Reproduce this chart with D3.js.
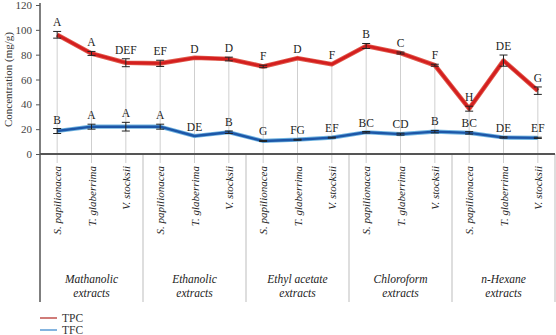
<!DOCTYPE html>
<html>
<head>
<meta charset="utf-8">
<script src="https://cdn.jsdelivr.net/npm/d3@7/dist/d3.min.js"></script>
<style>
    body { margin: 0; background: #fff; }
    svg { display: block; }
</style>
</head>
<body>
<div id="grafica"></div>
<script>
// especies y extractos
var especies = ["S. papilionacea", "T. glaberrima", "V. stocksii"];
var extractos = [["Mathanolic", "extracts"], ["Ethanolic", "extracts"], ["Ethyl acetate", "extracts"],
    ["Chloroform", "extracts"], ["n-Hexane", "extracts"]];

// TPC
var tpc = [96, 81, 73.5, 73, 77.5, 76.5, 70.5, 77.2, 72.3, 87, 81.3, 71.5, 36.5, 75.2, 51];
var tpcErr = [2.7, 1.6, 3.2, 2.5, 0, 1.5, 1, 0, 0, 2, 0.8, 0.8, 2, 4.5, 3];
var tpcLetras = ["A", "A", "DEF", "EF", "D", "D", "F", "D", "F", "B", "C", "F", "H", "DE", "G"];

// TFC
var tfc = [18.5, 22, 22, 22, 14.5, 17.5, 10.5, 11.5, 13.2, 17.5, 16, 18, 17, 13.3, 13];
var tfcErr = [2, 2, 3.5, 2, 0, 1, 0.4, 0.4, 0.4, 0.6, 0.8, 1, 1, 0.5, 0.5];
var tfcLetras = ["B", "A", "A", "A", "DE", "B", "G", "FG", "EF", "BC", "CD", "B", "BC", "DE", "EF"];

var yTicks = [0, 20, 40, 60, 80, 100, 120];

var fuente = "'Liberation Serif', 'Times New Roman', 'DejaVu Serif', serif";

var claves = [];
extractos.forEach(function (e, i) {
    especies.forEach(function (s) {
        claves.push(i + "|" + s);
    });
});

var data = claves.map(function (c, i) {
    return {clave: c, especie: c.split("|")[1], tpc: tpc[i], tpcErr: tpcErr[i], tpcL: tpcLetras[i],
        tfc: tfc[i], tfcErr: tfcErr[i], tfcL: tfcLetras[i]};
});

var svg = d3.select("#grafica").append("svg").attr("width", 556).attr("height", 335)
        .attr("font-family", fuente);
var margin = {top: 5, left: 40};
var width = 515;
var height = 149;
var g = svg.append("g").attr("transform", "translate(" + margin.left + "," + margin.top + ")");

var x = d3.scaleBand().domain(claves).range([0, width]);
var y = d3.scaleLinear().domain([0, 120]).range([height, 0]);
var cx = function (d) {
    return x(d.clave) + x.bandwidth() / 2;
};

// lineas verticales de cada especie
g.append("g").selectAll("line")
        .data(data)
        .enter()
        .append("line")
        .attr("x1", cx).attr("x2", cx)
        .attr("y1", function (d) { return y(d.tpc); })
        .attr("y2", height + 9)
        .attr("stroke", "#cfcfcf")
        .attr("stroke-width", 1);

// separadores de grupos
var grupoW = x.bandwidth() * 3;
g.append("g").selectAll("line")
        .data(d3.range(1, extractos.length + 1))
        .enter()
        .append("line")
        .attr("x1", function (i) { return i * grupoW; })
        .attr("x2", function (i) { return i * grupoW; })
        .attr("y1", height)
        .attr("y2", 297)
        .attr("stroke", "#c8c8c8")
        .attr("stroke-width", 1.2);

// eje y
var ejeY = g.append("g")
        .call(d3.axisLeft(y).tickValues(yTicks).tickSize(4).tickPadding(4));
ejeY.attr("font-family", fuente);
ejeY.select(".domain").remove();
ejeY.selectAll("line").attr("stroke", "#555");
ejeY.selectAll("text").attr("font-size", 11).attr("fill", "#444");
g.append("line").attr("x1", 0).attr("x2", 0).attr("y1", -2).attr("y2", 297)
        .attr("stroke", "#555").attr("stroke-width", 1.5);

g.append("line").attr("x1", 0).attr("x2", width).attr("y1", height).attr("y2", height)
        .attr("stroke", "#555").attr("stroke-width", 2);

svg.append("text")
        .attr("transform", "translate(12," + (margin.top + height / 2) + ") rotate(-90)")
        .attr("text-anchor", "middle")
        .attr("font-size", 11)
        .attr("fill", "#333")
        .text("Concentration (mg/g)");

// etiquetas de especies
g.append("g").selectAll("text")
        .data(data)
        .enter()
        .append("text")
        .attr("transform", function (d) {
            return "translate(" + (cx(d) + 4) + "," + (height + 12) + ") rotate(-90)";
        })
        .attr("text-anchor", "end")
        .attr("font-size", 11)
        .attr("font-style", "italic")
        .attr("fill", "#222")
        .text(function (d) { return d.especie; });

// etiquetas de extractos
extractos.forEach(function (e, i) {
    var t = g.append("text")
            .attr("x", i * grupoW + grupoW / 2)
            .attr("y", 278)
            .attr("text-anchor", "middle")
            .attr("font-size", 11.5)
            .attr("font-style", "italic")
            .attr("fill", "#222");
    t.append("tspan").attr("x", i * grupoW + grupoW / 2).text(e[0]);
    t.append("tspan").attr("x", i * grupoW + grupoW / 2).attr("dy", 14).text(e[1]);
});

function serie(campo, err, letras, color, glow, grosor) {
    var line = d3.line()
            .x(cx)
            .y(function (d) { return y(d[campo]); });
    g.append("path").datum(data)
            .attr("fill", "none").attr("stroke", glow).attr("stroke-width", grosor + 1.8)
            .attr("stroke-linejoin", "round").attr("d", line);
    g.append("path").datum(data)
            .attr("fill", "none").attr("stroke", color).attr("stroke-width", grosor)
            .attr("stroke-linejoin", "round").attr("d", line);

    var eb = g.append("g").selectAll("g")
            .data(data.filter(function (d) { return d[err] > 0; }))
            .enter()
            .append("g")
            .attr("stroke", "#222").attr("stroke-width", 1);
    eb.append("line")
            .attr("x1", cx).attr("x2", cx)
            .attr("y1", function (d) { return y(d[campo] + d[err]); })
            .attr("y2", function (d) { return y(d[campo] - d[err]); });
    eb.append("line")
            .attr("x1", function (d) { return cx(d) - 4; })
            .attr("x2", function (d) { return cx(d) + 4; })
            .attr("y1", function (d) { return y(d[campo] + d[err]); })
            .attr("y2", function (d) { return y(d[campo] + d[err]); });
    eb.append("line")
            .attr("x1", function (d) { return cx(d) - 4; })
            .attr("x2", function (d) { return cx(d) + 4; })
            .attr("y1", function (d) { return y(d[campo] - d[err]); })
            .attr("y2", function (d) { return y(d[campo] - d[err]); });

    g.append("g").selectAll("text")
            .data(data)
            .enter()
            .append("text")
            .attr("x", cx)
            .attr("y", function (d) { return y(d[campo] + d[err]) - 5; })
            .attr("text-anchor", "middle")
            .attr("font-size", 11.5)
            .attr("fill", "#222")
            .text(function (d) { return d[letras]; });
}

serie("tpc", "tpcErr", "tpcL", "#d41f1f", "#e05a4c", 2.8);
serie("tfc", "tfcErr", "tfcL", "#1d57a8", "#6fb3e0", 2.4);

// leyenda
var leyenda = [["TPC", "#c0504d"], ["TFC", "#5b9bd5"]];
leyenda.forEach(function (l, i) {
    svg.append("line")
            .attr("x1", 40).attr("x2", 57)
            .attr("y1", 318 + i * 12).attr("y2", 318 + i * 12)
            .attr("stroke", l[1]).attr("stroke-width", 1.5);
    svg.append("text")
            .attr("x", 62).attr("y", 322 + i * 12)
            .attr("font-size", 11.5)
            .attr("fill", "#333")
            .text(l[0]);
});
</script>
</body>
</html>
